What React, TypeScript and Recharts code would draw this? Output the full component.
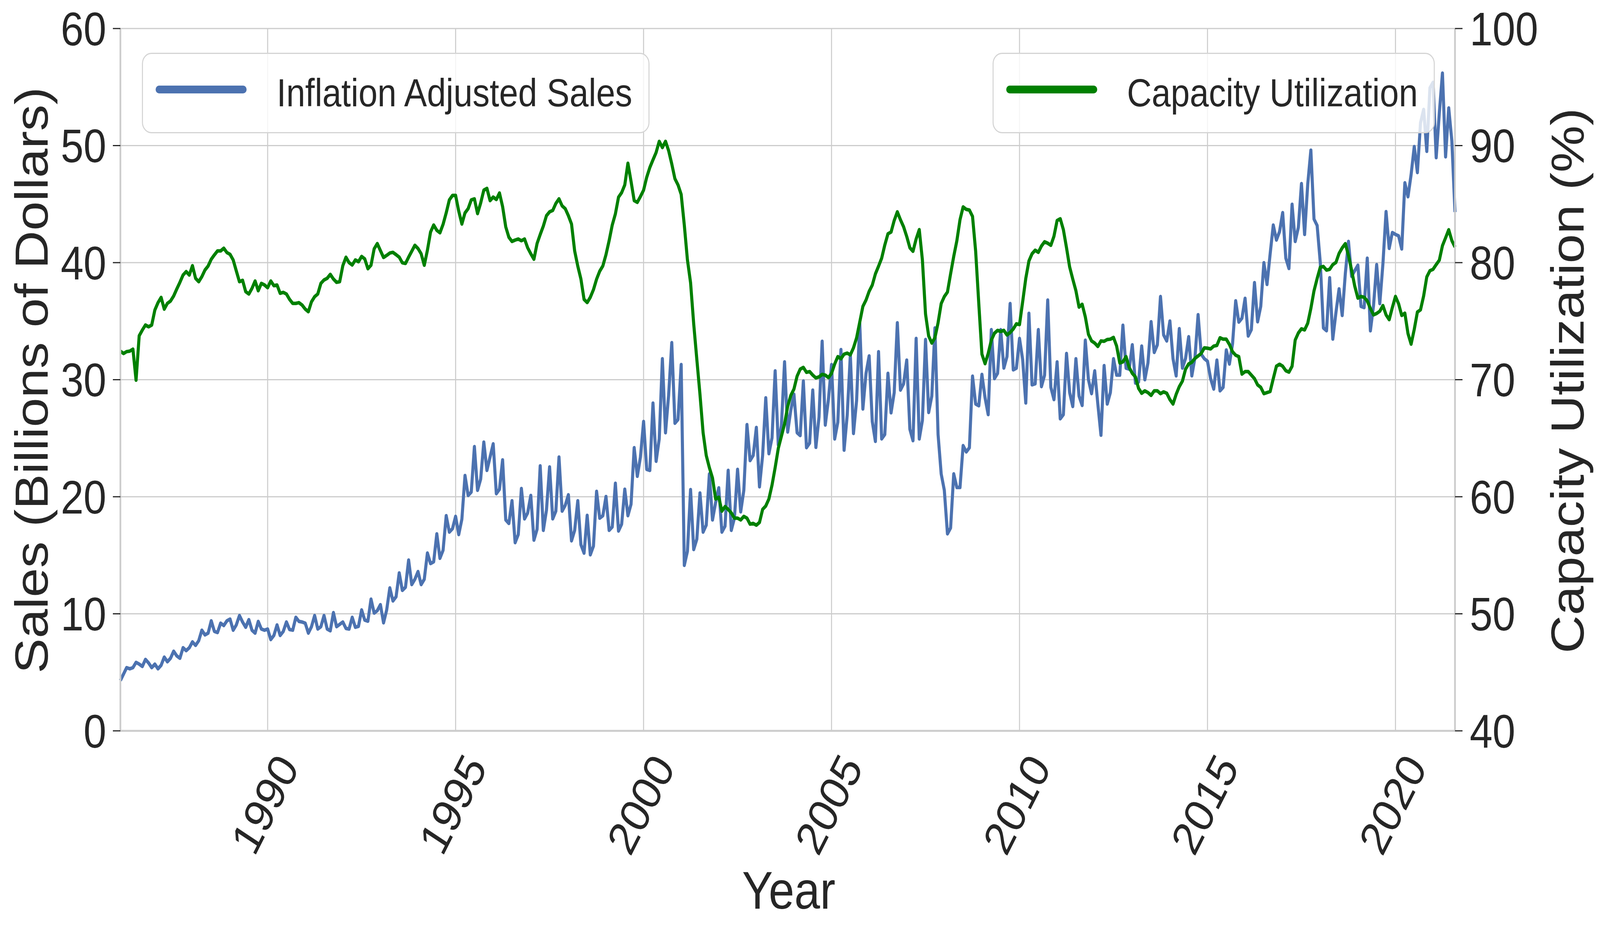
import { useEffect, useState } from "react"
import { LineChart, Line, XAxis, YAxis, CartesianGrid } from "recharts"

// monthly values, Jan 1986 .. Jul 2021 (one row per year)
const startYear = 1986

const sales = [
  4.3, 4.85, 5.4, 5.3, 5.4, 5.85, 5.7, 5.5, 6.1, 5.8, 5.4, 5.7,
  5.3, 5.6, 6.3, 5.9, 6.2, 6.8, 6.4, 6.2, 7.1, 6.85, 7.1, 7.6,
  7.3, 7.7, 8.6, 8.2, 8.35, 9.4, 8.5, 8.4, 9.2, 9.0, 9.4, 9.55,
  8.6, 9.05, 9.85, 9.3, 8.85, 9.5, 8.6, 8.35, 9.35, 8.7, 8.6, 8.7,
  7.8, 8.15, 9.05, 8.15, 8.5, 9.3, 8.65, 8.6, 9.7, 9.35, 9.3, 9.2,
  8.35, 8.9, 9.85, 8.7, 8.9, 9.85, 8.7, 8.55, 10.1, 8.9, 9.1, 9.3,
  8.75, 8.7, 9.7, 8.85, 8.93, 10.33, 9.46, 9.37, 11.25, 10.06, 10.27, 10.78,
  9.23, 10.33, 12.21, 11.1, 11.46, 13.49, 12.0, 12.27, 14.59, 12.5, 12.95, 13.61,
  12.5, 12.95, 15.19, 14.29, 14.44, 16.83, 14.74, 15.43, 18.38, 16.98, 17.27, 18.32,
  16.77, 18.08, 21.81, 20.11, 20.4, 24.28, 20.55, 21.51, 24.67, 22.25, 23.39, 24.52,
  20.26, 20.64, 23.15, 18.02, 17.72, 19.66, 16.08, 16.77, 20.7, 18.11, 18.62, 20.11,
  16.29, 17.22, 22.64, 17.13, 18.85, 22.55, 18.11, 18.77, 23.39, 18.77, 19.27, 20.17,
  16.23, 17.13, 19.66, 15.9, 15.18, 18.41, 15.04, 15.78, 20.46, 18.17, 18.38, 20.02,
  17.13, 17.42, 21.15, 17.07, 17.66, 20.64, 18.38, 19.36, 24.19, 21.75, 23.39, 26.43,
  22.34, 22.25, 28.0, 23.03, 24.94, 31.79, 25.47, 28.69, 33.16, 26.28, 26.6, 31.29,
  14.14, 15.34, 20.61, 15.49, 16.38, 20.32, 16.98, 17.57, 21.95, 18.02, 19.51, 20.76,
  16.98, 17.48, 22.25, 17.13, 18.17, 22.34, 18.71, 20.55, 26.16, 23.09, 23.53, 25.92,
  20.85, 23.53, 28.45, 23.68, 25.03, 30.75, 24.43, 26.07, 31.52, 25.53, 27.41, 28.75,
  25.47, 25.23, 29.88, 24.19, 24.58, 29.11, 24.22, 26.81, 33.28, 26.13, 28.3, 31.29,
  24.94, 26.37, 32.57, 23.98, 26.96, 32.12, 25.41, 28.22, 34.86, 27.5, 30.54, 32.03,
  26.43, 24.73, 32.39, 24.94, 25.32, 30.54, 27.17, 28.9, 34.86, 29.11, 29.65, 31.67,
  25.77, 24.79, 33.52, 24.94, 26.52, 33.43, 27.2, 28.6, 34.42, 25.32, 21.95, 20.55,
  16.83, 17.33, 21.95, 20.79, 20.79, 24.37, 23.83, 24.19, 30.3, 27.92, 27.77, 30.45,
  28.45, 27.02, 34.27, 30.09, 30.54, 34.27, 30.99, 31.97, 36.5, 30.84, 30.99, 33.52,
  31.73, 28.01, 35.67, 29.56, 29.65, 34.27, 29.41, 30.39, 36.8, 29.35, 28.3, 31.52,
  26.66, 27.02, 32.24, 28.9, 27.71, 31.79, 28.6, 27.8, 33.37, 30.0, 28.81, 30.75,
  27.92, 25.26, 31.2, 27.92, 28.9, 31.79, 30.39, 30.39, 34.65, 30.99, 30.9, 32.98,
  29.71, 29.8, 32.87, 30.0, 31.43, 34.95, 32.33, 32.98, 37.1, 33.82, 33.31, 35.01,
  31.79, 30.33, 34.36, 30.99, 31.82, 33.67, 30.33, 31.88, 35.55, 32.18, 31.79, 31.58,
  30.09, 29.2, 31.67, 29.05, 29.35, 32.54, 31.34, 33.07, 36.74, 34.92, 35.25, 36.95,
  33.73, 34.27, 38.29, 34.95, 36.26, 39.99, 38.14, 40.74, 43.21, 41.93, 42.65, 44.27,
  40.38, 39.5, 44.98, 41.81, 43.0, 46.75, 42.41, 46.7, 49.61, 43.72, 43.17, 40.02,
  34.42, 34.18, 38.71, 33.47, 35.73, 37.76, 35.49, 39.07, 41.81, 38.83, 39.31, 39.78,
  36.26, 36.16, 40.38, 34.18, 36.33, 39.83, 36.5, 39.9, 44.36, 41.22, 42.57, 42.41,
  42.29, 41.17, 46.82, 45.63, 47.53, 49.92, 47.7, 51.95, 53.09, 49.51, 54.93, 55.4,
  48.97, 52.78, 56.19, 49.04, 53.21, 50.4, 44.32,
]

const capacity = [
  72.44, 72.24, 72.4, 72.44, 72.61, 69.96, 73.75, 74.24, 74.67, 74.52, 74.67, 75.95,
  76.58, 77.03, 76.03, 76.52, 76.72, 77.15, 77.75, 78.32, 78.94, 79.23, 78.94, 79.74,
  78.66, 78.37, 78.8, 79.37, 79.71, 80.29, 80.66, 81.0, 81.0, 81.23, 80.86, 80.71,
  80.23, 79.29, 78.37, 78.49, 77.52, 77.32, 77.8, 78.43, 77.6, 78.23, 78.09, 77.86,
  78.43, 78.03, 78.09, 77.38, 77.46, 77.32, 76.86, 76.52, 76.52, 76.58, 76.38, 76.03,
  75.81, 76.66, 77.09, 77.32, 78.23, 78.52, 78.66, 79.0, 78.6, 78.32, 78.37, 79.74,
  80.46, 80.0, 79.8, 80.23, 80.08, 80.53, 80.32, 79.48, 79.78, 81.18, 81.63, 81.03,
  80.44, 80.62, 80.82, 80.88, 80.68, 80.47, 79.99, 79.93, 80.47, 80.97, 81.48, 81.21,
  80.76, 79.78, 81.06, 82.61, 83.21, 82.76, 82.55, 83.27, 84.25, 85.36, 85.74, 85.74,
  84.4, 83.3, 84.25, 84.61, 85.36, 85.45, 84.19, 85.09, 86.19, 86.34, 85.3, 85.6,
  85.39, 85.95, 84.79, 83.06, 82.17, 81.81, 81.93, 82.02, 81.87, 82.02, 81.27, 80.76,
  80.29, 81.63, 82.4, 83.12, 84.01, 84.34, 84.46, 85.06, 85.45, 84.85, 84.61, 84.01,
  83.3, 81.0, 79.7, 78.6, 76.86, 76.59, 77.04, 77.69, 78.59, 79.27, 79.72, 80.68,
  81.87, 83.21, 84.16, 85.59, 85.98, 86.64, 88.49, 86.94, 85.3, 85.15, 85.65, 86.19,
  87.29, 88.13, 88.78, 89.41, 90.36, 89.83, 90.36, 89.56, 88.43, 87.17, 86.64, 85.83,
  83.21, 80.23, 78.29, 74.77, 71.73, 68.75, 65.47, 63.53, 62.49, 61.6, 59.81, 59.96,
  58.77, 59.16, 58.92, 58.62, 58.17, 58.17, 58.02, 58.32, 58.17, 57.66, 57.72, 57.57,
  57.81, 58.92, 59.21, 59.81, 61.0, 62.49, 64.13, 65.17, 66.22, 67.71, 68.66, 69.2,
  70.3, 70.9, 71.05, 70.63, 70.69, 70.39, 70.15, 70.24, 70.45, 70.39, 70.18, 70.54,
  71.34, 71.97, 71.79, 72.18, 72.27, 72.12, 72.72, 73.58, 74.92, 76.26, 76.8, 77.55,
  78.08, 79.04, 79.69, 80.38, 81.51, 82.46, 82.61, 83.6, 84.34, 83.66, 83.06, 82.23,
  81.27, 80.97, 82.02, 82.82, 80.23, 75.61, 73.73, 73.13, 73.58, 74.86, 76.5, 77.1,
  77.49, 79.04, 80.53, 81.87, 83.66, 84.76, 84.55, 84.49, 83.95, 80.97, 76.5, 72.18,
  71.37, 72.24, 73.37, 73.97, 74.21, 74.12, 74.21, 73.82, 74.03, 74.33, 74.77, 74.71,
  76.65, 78.65, 80.14, 80.76, 81.06, 80.88, 81.42, 81.78, 81.66, 81.48, 82.26, 83.6,
  83.75, 82.82, 81.27, 79.63, 78.59, 77.6, 76.2, 76.44, 75.37, 73.88, 73.31, 73.13,
  72.84, 73.31, 73.28, 73.43, 73.46, 73.61, 72.87, 71.43, 71.52, 71.97, 71.05, 70.54,
  70.24, 69.26, 68.84, 69.05, 68.9, 68.66, 69.05, 69.05, 68.81, 68.96, 68.84, 68.3,
  67.92, 68.75, 69.41, 69.88, 70.9, 71.35, 71.49, 71.82, 72.03, 72.24, 72.72, 72.69,
  72.63, 72.87, 72.93, 73.58, 73.46, 73.46, 73.01, 72.39, 72.09, 71.97, 70.48, 70.69,
  70.69, 70.39, 70.09, 69.56, 69.35, 68.81, 68.9, 68.99, 70.09, 71.15, 71.32, 71.15,
  70.77, 70.65, 71.15, 73.39, 73.99, 74.35, 74.25, 74.82, 76.09, 77.59, 78.64, 79.6,
  79.67, 79.36, 79.43, 79.83, 80.02, 80.79, 81.26, 81.62, 80.62, 79.36, 78.0, 76.97,
  77.11, 77.04, 76.73, 76.09, 75.54, 75.66, 75.85, 76.33, 75.54, 75.13, 76.16, 77.11,
  76.49, 75.49, 75.68, 73.94, 73.04, 74.3, 75.78, 75.97, 77.16, 78.78, 79.31, 79.43,
  79.83, 80.21, 81.45, 82.12, 82.81, 81.88, 81.33,
]

const yearTicks = [1990, 1995, 2000, 2005, 2010, 2015, 2020]
const salesTicks = [0, 10, 20, 30, 40, 50, 60]
const capacityTicks = [40, 50, 60, 70, 80, 90, 100]

// design size of the figure
const W = 4678
const H = 2377
const ink = "#262626"
const gridColor = "#cccccc"
const blue = "#4c72b0"
const green = "#008000"
const font = '"Liberation Sans", Arial, Helvetica, sans-serif'

// month-end positions in fractional years
const data = sales.map((s, i) => ({
  t: startYear + (i + 1) / 12,
  sales: s,
  capacity: capacity[i],
}))
const first = data[0].t
const last = data[data.length - 1].t

function YearTick(props: any) {
  const { x, y, payload } = props
  const cx = x - 8
  const cy = y + 188
  return (
    <text
      x={cx}
      y={cy}
      textAnchor="middle"
      dominantBaseline="central"
      transform={`rotate(-60 ${cx} ${cy})`}
      fontSize={120}
      fill={ink}
      fontFamily={font}
    >
      {payload.value}
    </text>
  )
}

const abs = (style: any) => ({ position: "absolute" as const, ...style })

function LegendEntry({ left, width, lineLeft, textLeft, color, label }: any) {
  return (
    <>
      <div
        style={abs({
          left,
          top: 135,
          width,
          height: 206,
          boxSizing: "border-box",
          border: "3.5px solid #d4d4d4",
          borderRadius: 28,
          background: "rgba(255,255,255,0.8)",
        })}
      />
      <div style={abs({ left: lineLeft, top: 219, width: 266, height: 20, borderRadius: 10, background: color })} />
      <div style={abs({ left: textLeft, top: 187, fontSize: 100, lineHeight: "100px", color: ink, whiteSpace: "nowrap" })}>
        {label}
      </div>
    </>
  )
}

function viewport() {
  return { w: window.innerWidth || W, h: window.innerHeight || H }
}

export default function App() {
  // the window may come up smaller than the figure; fit the figure into it
  const [vp, setVp] = useState(viewport())
  useEffect(() => {
    const onResize = () => setVp(viewport())
    window.addEventListener("resize", onResize)
    return () => window.removeEventListener("resize", onResize)
  }, [])
  const kx = vp.w / W
  const ky = vp.h / H

  const axisTick = { fontSize: 120, fill: ink, fontFamily: font }
  return (
    <div style={{ position: "fixed", left: 0, top: 0, width: vp.w, height: vp.h, overflow: "hidden", background: "#fff" }}>
      <div
        style={abs({
          left: 0,
          top: 0,
          width: W,
          height: H,
          transform: `scale(${kx}, ${ky})`,
          transformOrigin: "0 0",
          fontFamily: font,
        })}
      >
        <LineChart width={W} height={H} data={data} margin={{ top: 73, right: 0, bottom: 0, left: 0 }}>
          <CartesianGrid yAxisId="left" stroke={gridColor} strokeWidth={3} />
          <XAxis
            dataKey="t"
            type="number"
            domain={[first, last]}
            ticks={yearTicks}
            interval={0}
            height={507}
            tickLine={false}
            tickSize={0}
            tickMargin={0}
            axisLine={{ stroke: gridColor, strokeWidth: 5 }}
            tick={YearTick}
          />
          <YAxis
            yAxisId="left"
            domain={[0, 60]}
            ticks={salesTicks}
            interval={0}
            width={352}
            tickSize={22}
            tickMargin={19}
            tickLine={{ stroke: ink, strokeWidth: 3 }}
            axisLine={{ stroke: gridColor, strokeWidth: 5 }}
            tick={axisTick}
          />
          <YAxis
            yAxisId="right"
            orientation="right"
            domain={[40, 100]}
            ticks={capacityTicks}
            interval={0}
            width={424}
            tickSize={22}
            tickMargin={21}
            tickLine={{ stroke: ink, strokeWidth: 3 }}
            axisLine={{ stroke: gridColor, strokeWidth: 5 }}
            tick={axisTick}
          />
          <Line
            yAxisId="left"
            dataKey="sales"
            name="Inflation Adjusted Sales"
            stroke={blue}
            strokeWidth={9}
            strokeLinejoin="round"
            dot={false}
            isAnimationActive={false}
          />
          <Line
            yAxisId="right"
            dataKey="capacity"
            name="Capacity Utilization"
            stroke={green}
            strokeWidth={9}
            strokeLinejoin="round"
            dot={false}
            isAnimationActive={false}
          />
        </LineChart>

        <LegendEntry left={415} width={1484} lineLeft={455} textLeft={809} color={blue} label="Inflation Adjusted Sales" />
        <LegendEntry left={2902} width={1293} lineLeft={2942} textLeft={3295} color={green} label="Capacity Utilization" />

        <div
          style={abs({
            left: 93,
            top: 973,
            transform: "translate(-50%, -50%) rotate(-90deg)",
            fontSize: 135,
            lineHeight: 1,
            color: ink,
            whiteSpace: "nowrap",
          })}
        >
          Sales (Billions of Dollars)
        </div>
        <div
          style={abs({
            left: 4583,
            top: 974,
            transform: "translate(-50%, -50%) rotate(-90deg)",
            fontSize: 135,
            lineHeight: 1,
            color: ink,
            whiteSpace: "nowrap",
          })}
        >
          Capacity Utilization (%)
        </div>
        <div
          style={abs({
            left: 2306,
            top: 2278,
            transform: "translate(-50%, -50%)",
            fontSize: 135,
            lineHeight: 1,
            color: ink,
            whiteSpace: "nowrap",
          })}
        >
          Year
        </div>
      </div>
    </div>
  )
}
